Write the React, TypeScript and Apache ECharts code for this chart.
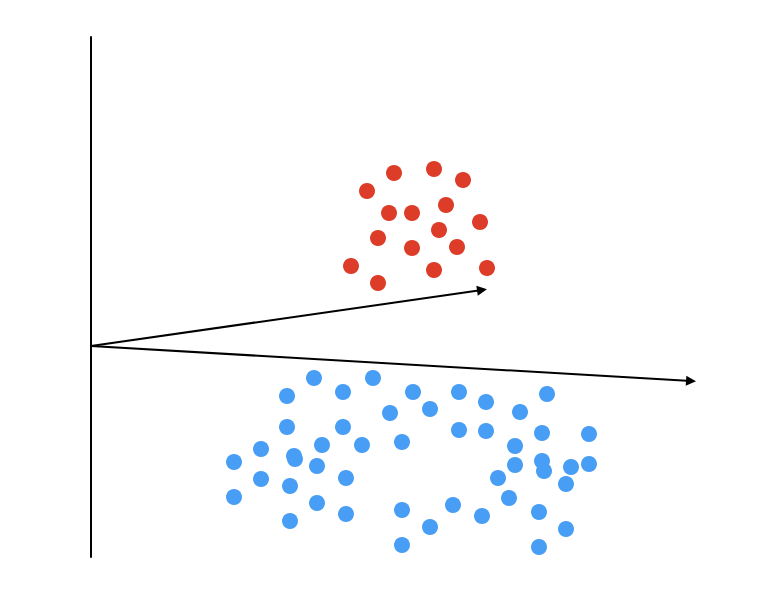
import React, { useEffect, useRef } from "react";
import * as echarts from "echarts";

const redPoints: [number, number][] = [
  [30.3, 17.3], [34.3, 17.7], [37.2, 16.6], [27.6, 15.5], [29.8, 13.3], [32.1, 13.3],
  [35.5, 14.1], [38.9, 12.4], [34.8, 11.6], [28.7, 10.8], [32.1, 9.8], [36.6, 9.9],
  [26.0, 8.0], [34.3, 7.6], [39.6, 7.8], [28.7, 6.3],
];

const bluePoints: [number, number][] = [
  [22.3, -3.2], [28.2, -3.2], [19.6, -5.0], [25.2, -4.6], [32.2, -4.6], [29.9, -6.7],
  [19.6, -8.1], [25.2, -8.1], [17.0, -10.3], [23.1, -9.9], [27.1, -9.9], [31.1, -9.6],
  [14.3, -11.6], [20.3, -11.0], [20.4, -11.3], [22.6, -12.0], [17.0, -13.3], [19.9, -14.0],
  [25.5, -13.2], [14.3, -15.1], [22.6, -15.7], [25.5, -16.8], [19.9, -17.5], [31.1, -16.4],
  [31.1, -19.9], [36.8, -4.6], [39.5, -5.6], [45.6, -4.8], [33.9, -6.3], [42.9, -6.6],
  [36.8, -8.4], [39.5, -8.5], [45.1, -8.7], [49.8, -8.8], [42.4, -10.0], [42.4, -11.9],
  [45.1, -11.5], [45.3, -12.5], [48.0, -12.1], [49.8, -11.8], [40.7, -13.2], [47.5, -13.8],
  [41.8, -15.2], [36.2, -15.9], [39.1, -17.0], [44.8, -16.6], [33.9, -18.1], [47.5, -18.3],
  [44.8, -20.1],
];

const origin: [number, number] = [0, 0];
const arrowEnds: [number, number][] = [
  [39.1, 5.6],
  [60.0, -3.5],
];

export default function App() {
  const ref = useRef<HTMLDivElement>(null);
  useEffect(() => {
    document.body.style.margin = "0";
    if (!ref.current) return;
    const chart = echarts.init(ref.current, undefined, { renderer: "svg" });
    chart.setOption({
      animation: false,
      backgroundColor: "#ffffff",
      grid: { left: 91, top: 37, width: 620, height: 520 },
      xAxis: {
        type: "value",
        min: 0,
        max: 62,
        show: false,
      },
      yAxis: {
        type: "value",
        min: -21.1,
        max: 30.9,
        axisLine: { show: true, onZero: false, lineStyle: { color: "#000", width: 2 } },
        axisTick: { show: false },
        axisLabel: { show: false },
        splitLine: { show: false },
      },
      series: [
        {
          type: "lines",
          coordinateSystem: "cartesian2d",
          symbol: ["none", "triangle"],
          symbolSize: [9, 10],
          lineStyle: { color: "#000", width: 2, opacity: 1 },
          data: arrowEnds.map((e) => ({ coords: [origin, e] })),
          silent: true,
        },
        {
          type: "scatter",
          symbolSize: 16,
          itemStyle: { color: "#dc3c28", opacity: 1 },
          data: redPoints,
        },
        {
          type: "scatter",
          symbolSize: 16,
          itemStyle: { color: "#489ef5", opacity: 1 },
          data: bluePoints,
        },
      ],
    });
    return () => chart.dispose();
  }, []);
  return <div ref={ref} style={{ width: 764, height: 594 }} />;
}
